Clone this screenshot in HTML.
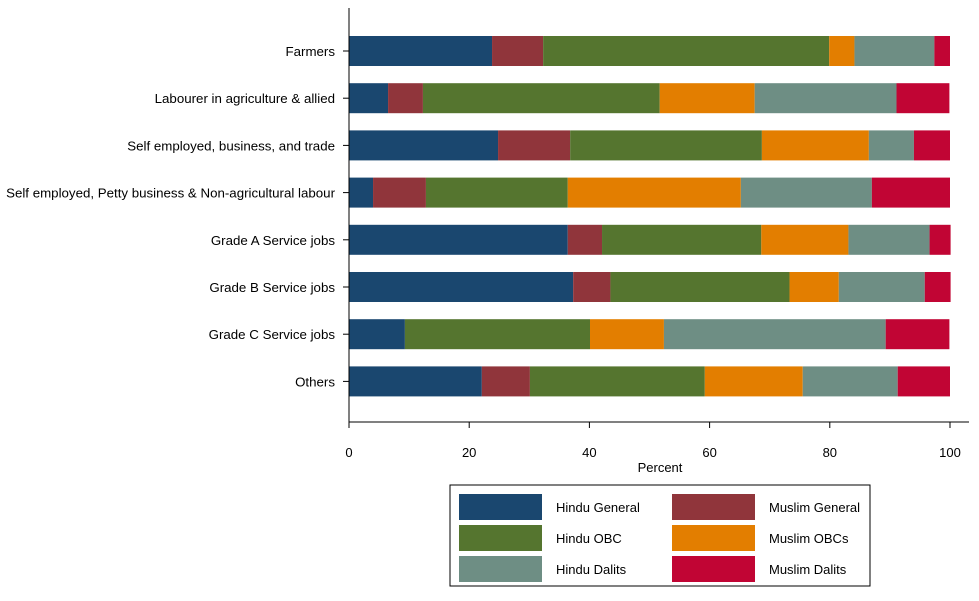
<!DOCTYPE html>
<html><head><meta charset="utf-8"><style>
body{margin:0;background:#fff;font-family:"Liberation Sans",sans-serif}
svg text{font-family:"Liberation Sans",sans-serif;fill:#000}
</style></head><body>
<svg id="c" width="979" height="596"></svg>
<script>
const categories=["Farmers","Labourer in agriculture & allied","Self employed, business, and trade","Self employed, Petty business & Non-agricultural labour","Grade A Service jobs","Grade B Service jobs","Grade C Service jobs","Others"];
const seriesNames=["Hindu General","Muslim General","Hindu OBC","Muslim OBCs","Hindu Dalits","Muslim Dalits"];
const hinduGeneral=[23.8,6.5,24.8,4.0,36.4,37.3,9.3,22.1];
const muslimGeneral=[8.5,5.8,12.0,8.8,5.7,6.2,0,8.0];
const hinduOBC=[47.6,39.4,31.9,23.6,26.5,29.8,30.8,29.1];
const muslimOBCs=[4.2,15.8,17.8,28.8,14.5,8.2,12.3,16.3];
const hinduDalits=[13.3,23.6,7.5,21.8,13.5,14.3,36.9,15.8];
const muslimDalits=[2.6,8.8,6.0,13.0,3.5,4.3,10.6,8.7];
const xTicks=[0,20,40,60,80,100];
const colors=["#1a476f","#90353b","#55752f","#e37e00","#6e8e84","#c10534"];
const series=[hinduGeneral,muslimGeneral,hinduOBC,muslimOBCs,hinduDalits,muslimDalits];
const svg=document.getElementById('c');const NS="http://www.w3.org/2000/svg";
function mk(t,a,p){const e=document.createElementNS(NS,t);for(const k in a)e.setAttribute(k,a[k]);(p||svg).appendChild(e);return e;}
const x=v=>349+v*6.01;const y=i=>51+i*47.2;const bh=30;
const slugs=["hindu-general","muslim-general","hindu-obc","muslim-obcs","hindu-dalits","muslim-dalits"];
categories.forEach((c,i)=>{let cum=0;
 series.forEach((s,j)=>{const v=s[i];
  const r=mk('rect',{x:x(cum),y:y(i)-bh/2,width:Math.max(0,x(cum+v)-x(cum)),height:bh,fill:colors[j]});
  
  
  cum+=v;});
 const t=mk('text',{x:335,y:y(i)+5,'text-anchor':'end','font-size':13.3});t.textContent=c;
 
 
 mk('line',{x1:343,x2:349,y1:y(i),y2:y(i),stroke:'#000'});
});
const ya=mk('line',{x1:349,x2:349,y1:8,y2:422,stroke:'#000'});

const xa=mk('line',{x1:349,x2:969,y1:422,y2:422,stroke:'#000'});

xTicks.forEach(v=>{mk('line',{x1:x(v),x2:x(v),y1:422,y2:428,stroke:'#000'});
 const t=mk('text',{x:x(v),y:457,'text-anchor':'middle','font-size':13});t.textContent=v;
 
 });
const xt=mk('text',{x:660,y:472,'text-anchor':'middle','font-size':13});xt.textContent="Percent";

const lg=mk('rect',{x:450,y:485,width:420,height:101,fill:'#fff',stroke:'#000'});

seriesNames.forEach((n,j)=>{const col=j%2,row=Math.floor(j/2);
 const sx=col?672:459,sy=494+row*31;
 const r=mk('rect',{x:sx,y:sy,width:83,height:26,fill:colors[j]});
 
 const t=mk('text',{x:sx+97,y:sy+18,'font-size':13});t.textContent=n;
 });
</script></body></html>
